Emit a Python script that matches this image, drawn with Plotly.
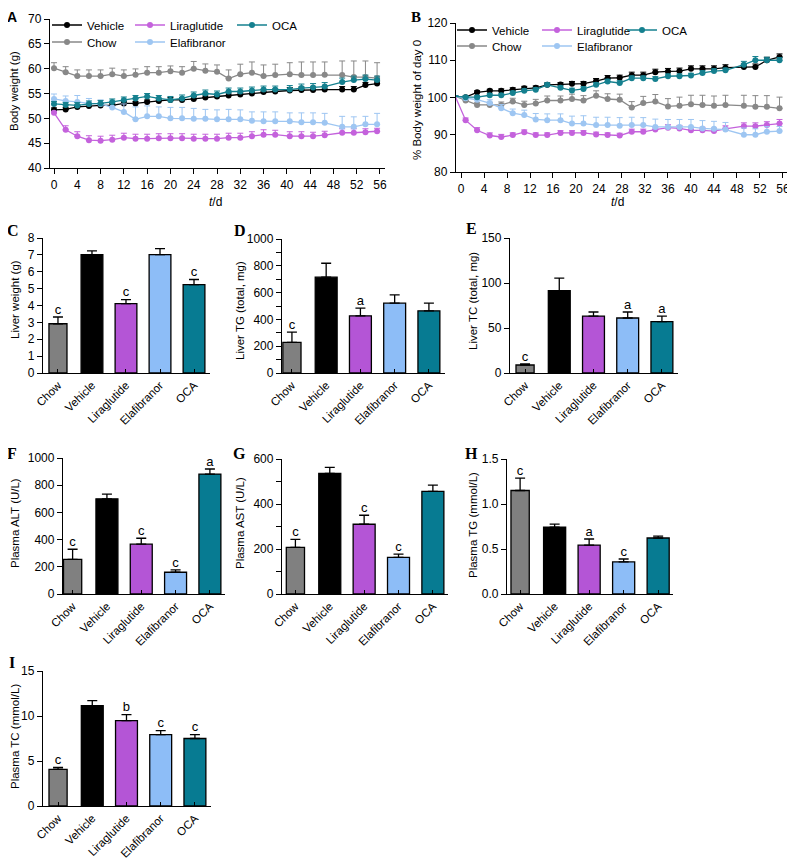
import plotly.graph_objects as go

# The page body has an 8 px margin: the figure is sized to fit the window after it.
OFF = 8
W, H = 795 - OFF, 859 - OFF
FONT = "Liberation Sans"

# ---------------- data ----------------
groups = ["Chow", "Vehicle", "Liraglutide", "Elafibranor", "OCA"]

days_A = [0, 2, 4, 6, 8, 10, 12, 14, 16, 18, 20, 22, 24, 26, 28, 30, 32, 34, 36, 38,
          40.5, 42.5, 44.5, 46.5, 49.5, 51.5, 53.5, 55.5]
days_B = [-1, 0.8, 2.8, 5, 7, 9, 11, 13, 15, 17.3, 19.3, 21.3, 23.5, 25.5, 27.6, 29.7,
          31.7, 33.8, 36, 38, 40, 42, 44, 46, 49.2, 51.2, 53.2, 55.4]

# Panel A: body weight (g)
bw_vehicle = [51.7, 51.8, 52.3, 52.5, 52.6, 52.6, 53.0, 53.0, 53.3, 53.5, 53.7, 53.7, 53.9, 54.2,
              54.4, 54.6, 54.8, 55.0, 55.3, 55.4, 55.6, 55.7, 55.7, 55.8, 55.8, 55.8, 56.7, 57.0]
bw_vehicle_err = [0.4, 0.4, 0.4, 0.4, 0.4, 0.4, 0.4, 0.4, 0.4, 0.4, 0.5, 0.5, 0.5, 0.5,
                  0.5, 0.5, 0.5, 0.5, 0.5, 0.5, 0.6, 0.6, 0.6, 0.6, 0.6, 0.6, 0.5, 0.5]
bw_chow = [60.1, 59.3, 58.5, 58.5, 58.5, 58.9, 58.5, 58.8, 59.2, 59.2, 59.5, 59.2, 60.0, 59.6,
           59.4, 58.0, 58.9, 59.2, 58.5, 58.7, 58.9, 58.7, 58.7, 58.8, 58.7, 58.3, 58.3, 58.1]
bw_chow_err = [1.1, 1.1, 1.25, 1.25, 1.25, 1.2, 1.25, 1.15, 1.2, 1.2, 1.05, 1.2, 1.45, 1.35,
               1.35, 1.75, 2.0, 2.15, 2.25, 2.2, 2.3, 2.65, 2.65, 2.55, 2.85, 3.25, 3.25, 3.1]
bw_lira = [51.1, 47.7, 46.4, 45.6, 45.5, 45.7, 46.1, 45.9, 45.9, 46.0, 46.0, 46.0, 45.9, 45.9,
           45.9, 46.1, 46.1, 46.4, 46.7, 46.7, 46.4, 46.4, 46.4, 46.6, 47.1, 47.1, 47.2, 47.4]
bw_lira_err = [0.3, 0.8, 0.9, 0.9, 0.9, 0.9, 0.9, 0.9, 0.9, 0.9, 0.9, 0.9, 0.9, 0.9,
               0.9, 0.9, 0.9, 0.9, 1.0, 0.9, 0.9, 0.9, 0.8, 0.8, 0.8, 0.8, 0.7, 0.6]
bw_elaf = [53.9, 53.5, 53.3, 53.0, 52.9, 52.2, 51.3, 49.8, 50.4, 50.4, 50.0, 50.0, 49.9, 49.9,
           49.8, 49.8, 49.8, 49.5, 49.4, 49.4, 49.4, 49.2, 49.2, 49.1, 48.3, 48.3, 48.8, 48.8]
bw_elaf_err = [1.0, 1.0, 1.3, 1.0, 0.8, 1.1, 1.6, 2.5, 2.1, 1.9, 2.2, 2.2, 2.1, 1.9,
               1.9, 2.0, 1.9, 1.8, 1.9, 1.9, 1.7, 1.9, 1.9, 1.9, 2.1, 2.0, 1.6, 2.2]
bw_oca = [52.9, 52.7, 52.6, 52.9, 53.0, 53.3, 53.7, 54.0, 54.4, 54.0, 53.7, 54.0, 54.6, 55.0,
          54.8, 55.4, 55.4, 55.6, 55.8, 55.8, 55.8, 56.1, 56.2, 56.4, 57.3, 57.7, 57.9, 57.7]
bw_oca_err = [0.5, 0.5, 0.6, 0.6, 0.6, 0.6, 0.6, 0.6, 0.6, 0.6, 0.7, 0.7, 0.7, 0.7,
              0.7, 0.7, 0.7, 0.7, 0.7, 0.7, 0.8, 0.8, 0.8, 0.8, 0.8, 0.8, 0.8, 0.8]

# Panel B: % body weight of day 0
pct_vehicle = [100.3, 100.1, 101.4, 101.8, 101.8, 102.1, 102.5, 102.6, 103.4, 103.5, 103.7, 103.7,
               104.4, 105.2, 105.3, 106.0, 106.0, 106.8, 107.0, 107.1, 107.7, 107.7, 107.7, 108.0,
               108.2, 108.2, 110.0, 110.9]
pct_vehicle_err = [0.2, 0.3, 0.4, 0.4, 0.5, 0.5, 0.5, 0.5, 0.5, 0.5, 0.6, 0.6, 0.7, 0.7, 0.7, 0.8,
                   0.8, 0.8, 0.8, 0.8, 0.8, 0.8, 0.8, 0.8, 0.8, 0.8, 0.8, 0.8]
pct_chow = [100.3, 99.2, 98.0, 98.0, 98.0, 98.9, 98.0, 98.4, 99.2, 99.2, 99.6, 99.2, 100.5, 99.6,
            99.4, 97.3, 98.5, 98.9, 97.6, 97.8, 98.2, 98.0, 97.8, 98.0, 97.8, 97.5, 97.5, 97.1]
pct_chow_err = [0.2, 0.5, 0.6, 0.7, 0.8, 0.9, 1.0, 1.1, 1.2, 1.2, 1.3, 1.3, 1.3, 1.4, 1.5, 1.6,
                1.8, 1.9, 2.1, 2.3, 2.4, 2.6, 2.6, 2.6, 2.8, 3.0, 3.0, 3.0]
pct_lira = [100.3, 93.9, 91.2, 89.8, 89.4, 89.9, 90.7, 89.9, 89.9, 90.5, 90.5, 90.5, 90.1, 89.9,
            89.8, 90.8, 90.8, 91.4, 91.9, 91.7, 91.2, 91.2, 91.0, 91.6, 92.3, 92.3, 92.6, 93.0]
pct_lira_err = [0.2, 0.6, 0.7, 0.7, 0.7, 0.6, 0.6, 0.6, 0.6, 0.6, 0.6, 0.6, 0.6, 0.6, 0.6, 0.7,
                0.7, 0.7, 0.8, 0.8, 0.8, 0.8, 0.8, 0.8, 0.9, 0.9, 0.9, 1.1]
pct_elaf = [100.3, 99.8, 99.4, 98.5, 97.1, 95.8, 95.3, 94.1, 93.9, 93.9, 93.0, 93.0, 92.6, 92.6,
            92.4, 92.6, 92.6, 92.1, 92.1, 92.1, 92.1, 91.7, 91.6, 91.4, 90.0, 90.0, 90.8, 91.0]
pct_elaf_err = [0.2, 0.5, 0.7, 0.9, 1.0, 1.1, 1.3, 1.6, 1.7, 1.7, 2.0, 2.1, 2.1, 2.1, 2.2, 2.1,
                2.0, 2.1, 2.0, 2.0, 2.0, 2.1, 2.0, 1.9, 1.8, 1.6, 1.4, 1.2]
pct_oca = [100.3, 100.1, 100.1, 100.6, 100.6, 101.2, 101.8, 102.1, 103.4, 102.6, 101.9, 102.3,
           103.4, 104.3, 103.9, 105.2, 105.2, 105.0, 105.7, 105.7, 105.9, 106.6, 107.1, 107.3,
           108.8, 110.0, 110.0, 110.0]
pct_oca_err = [0.2, 0.3, 0.4, 0.4, 0.4, 0.5, 0.5, 0.5, 0.5, 0.5, 0.6, 0.6, 0.6, 0.6, 0.6, 0.6,
               0.6, 0.6, 0.6, 0.6, 0.6, 0.6, 0.6, 0.6, 0.9, 1.0, 0.8, 0.7]

# Bar panels (order = groups)
liver_weight = [2.92, 7.02, 4.11, 7.02, 5.24]
liver_weight_err = [0.40, 0.22, 0.24, 0.35, 0.30]
liver_weight_sig = ["c", "", "c", "", "c"]

liver_tg = [228, 715, 427, 521, 464]
liver_tg_err = [77, 104, 57, 62, 57]
liver_tg_sig = ["c", "", "a", "", ""]

liver_tc = [8.9, 91.5, 63.3, 61.1, 57.0]
liver_tc_err = [1.1, 14.0, 4.5, 6.7, 6.3]
liver_tc_sig = ["c", "", "", "a", "a"]

plasma_alt = [255, 700, 366, 160, 882]
plasma_alt_err = [74, 35, 44, 17, 37]
plasma_alt_sig = ["c", "", "c", "c", "a"]

plasma_ast = [207, 536, 310, 163, 456]
plasma_ast_err = [36, 27, 40, 14, 28]
plasma_ast_sig = ["c", "", "c", "c", ""]

plasma_tg = [1.15, 0.744, 0.544, 0.356, 0.622]
plasma_tg_err = [0.137, 0.033, 0.067, 0.033, 0.022]
plasma_tg_sig = ["c", "", "a", "c", ""]

plasma_tc = [4.06, 11.16, 9.49, 7.94, 7.50]
plasma_tc_err = [0.22, 0.55, 0.67, 0.44, 0.44]
plasma_tc_sig = ["c", "", "b", "c", "c"]

# ---------------- styles ----------------
bar_colors = ["#808080", "#000000", "#b455d6", "#8dbdf7", "#077b92"]
bar_widths = [0.53, 0.64, 0.64, 0.64, 0.64]
line_colors = {"Vehicle": "#000000", "Chow": "#888888", "Liraglutide": "#c462dc",
               "Elafibranor": "#9ec6f2", "OCA": "#15808f"}


def xp(p):
    return (p - OFF) / W


def yp(p):
    return 1 - (p - OFF) / H


fig = go.Figure()
layout = dict(width=W, height=H, margin=dict(l=0, r=0, t=0, b=0, pad=0, autoexpand=False),
              paper_bgcolor="white", plot_bgcolor="white",
              font=dict(family=FONT, size=11.5, color="black"), showlegend=True)

axis_common = dict(showline=True, linecolor="black", linewidth=1.3, showgrid=False,
                   zeroline=False, ticks="outside", tickcolor="black", tickwidth=1.3,
                   ticklen=5, automargin=False,
                   tickfont=dict(family=FONT, size=12, color="black"))

# ---------------- time-course panels ----------------
tc_panels = [
    dict(ax="", days=days_A, xdom=(50, 385), ydom=(168, 19), xr=[-0.69, 56.86], yr=[40, 70],
         ydt=5, series=[("Vehicle", bw_vehicle, bw_vehicle_err), ("Chow", bw_chow, bw_chow_err),
                        ("Liraglutide", bw_lira, bw_lira_err),
                        ("Elafibranor", bw_elaf, bw_elaf_err), ("OCA", bw_oca, bw_oca_err)],
         leg={"Vehicle": (87, 25), "Chow": (87, 42), "Liraglutide": (170, 25),
              "Elafibranor": (170, 42), "OCA": (272, 25)}),
    dict(ax="2", days=days_B, xdom=(456, 787), ydom=(172, 23), xr=[-0.87, 56.7], yr=[80, 120],
         ydt=10, series=[("Vehicle", pct_vehicle, pct_vehicle_err), ("Chow", pct_chow, pct_chow_err),
                         ("Liraglutide", pct_lira, pct_lira_err),
                         ("Elafibranor", pct_elaf, pct_elaf_err), ("OCA", pct_oca, pct_oca_err)],
         leg={"Vehicle": (492, 30), "Chow": (492, 46), "Liraglutide": (577, 30),
              "Elafibranor": (577, 46), "OCA": (662, 30)}),
]

leg_idx = 1
for p in tc_panels:
    ax = p["ax"]
    for name, vals, err in p["series"]:
        lname = "legend" if leg_idx == 1 else f"legend{leg_idx}"
        c = line_colors[name]
        fig.add_trace(go.Scatter(
            x=p["days"], y=vals, mode="lines+markers", name=name,
            line=dict(color=c, width=1.3), marker=dict(color=c, size=6),
            error_y=dict(type="data", symmetric=False, array=err, arrayminus=[0] * len(err),
                         color=c, thickness=1, width=3),
            xaxis="x" + ax, yaxis="y" + ax, legend=lname, cliponaxis=False))
        tx, ty = p["leg"][name]
        layout[lname] = dict(x=xp(tx - 40), y=yp(ty), xanchor="left", yanchor="middle",
                             bgcolor="rgba(0,0,0,0)", borderwidth=0, itemwidth=30,
                             font=dict(family=FONT, size=11.5, color="black"))
        leg_idx += 1
    layout["xaxis" + ax] = dict(axis_common, domain=[xp(p["xdom"][0]), xp(p["xdom"][1])],
                                range=p["xr"], tickmode="linear", tick0=0, dtick=4,
                                anchor="y" + ax)
    layout["yaxis" + ax] = dict(axis_common, domain=[yp(p["ydom"][0]), yp(p["ydom"][1])],
                                range=p["yr"], tickmode="linear", tick0=0, dtick=p["ydt"],
                                anchor="x" + ax)

# ---------------- bar panels ----------------
bar_panels = [
    dict(ax="3", v=liver_weight, e=liver_weight_err, s=liver_weight_sig, xdom=(43, 210),
         ydom=(373, 238), xr=[-0.44, 4.47], yr=[0, 8], dt=1, minor=None, fmt=None),
    dict(ax="4", v=liver_tg, e=liver_tg_err, s=liver_tg_sig, xdom=(282, 445),
         ydom=(373, 239), xr=[-0.29, 4.47], yr=[0, 1000], dt=200, minor=100, fmt=None),
    dict(ax="5", v=liver_tc, e=liver_tc_err, s=liver_tc_sig, xdom=(510, 678),
         ydom=(373, 238), xr=[-0.44, 4.47], yr=[0, 150], dt=50, minor=None, fmt=None),
    dict(ax="6", v=plasma_alt, e=plasma_alt_err, s=plasma_alt_sig, xdom=(63, 225),
         ydom=(594, 458), xr=[-0.28, 4.44], yr=[0, 1000], dt=200, minor=None, fmt=None),
    dict(ax="7", v=plasma_ast, e=plasma_ast_err, s=plasma_ast_sig, xdom=(282, 448),
         ydom=(594, 459), xr=[-0.39, 4.44], yr=[0, 600], dt=200, minor=100, fmt=None),
    dict(ax="8", v=plasma_tg, e=plasma_tg_err, s=plasma_tg_sig, xdom=(507, 673),
         ydom=(594, 459), xr=[-0.38, 4.43], yr=[0, 1.5], dt=0.5, minor=None, fmt=".1f"),
    dict(ax="9", v=plasma_tc, e=plasma_tc_err, s=plasma_tc_sig, xdom=(43, 211),
         ydom=(806, 671), xr=[-0.44, 4.47], yr=[0, 15], dt=5, minor=None, fmt=None),
]

for p in bar_panels:
    ax = p["ax"]
    fig.add_trace(go.Bar(
        x=groups, y=p["v"], width=bar_widths, marker=dict(color=bar_colors,
                                                          line=dict(color="black", width=1.3)),
        error_y=dict(type="data", symmetric=False, array=p["e"], arrayminus=[0] * 5,
                     color="black", thickness=1.3, width=5),
        xaxis="x" + ax, yaxis="y" + ax, showlegend=False))
    tops = [v + e for v, e in zip(p["v"], p["e"])]
    fig.add_trace(go.Scatter(
        x=groups, y=tops, mode="text", text=p["s"], textposition="top center",
        textfont=dict(family=FONT, size=13, color="black"),
        xaxis="x" + ax, yaxis="y" + ax, showlegend=False, cliponaxis=False, hoverinfo="skip"))
    xa = dict(axis_common, domain=[xp(p["xdom"][0]), xp(p["xdom"][1])], range=p["xr"],
              type="category", ticks="inside", ticklen=4, tickangle=-45, anchor="y" + ax,
              tickfont=dict(family=FONT, size=11.5, color="black"))
    ya = dict(axis_common, domain=[yp(p["ydom"][0]), yp(p["ydom"][1])], range=p["yr"],
              tickmode="linear", tick0=0, dtick=p["dt"], anchor="x" + ax)
    if p["minor"]:
        ya["minor"] = dict(dtick=p["minor"], ticks="outside", ticklen=5, tickcolor="black",
                           tickwidth=1.3)
    if p["fmt"]:
        ya["tickformat"] = p["fmt"]
    layout["xaxis" + ax] = xa
    layout["yaxis" + ax] = ya

# ---------------- text: panel letters and axis titles ----------------
ann = []
letters = [("A", 12, 17, "Liberation Sans", 14), ("B", 416, 17, "Liberation Serif", 15),
           ("C", 13, 230, "Liberation Serif", 16), ("D", 240, 230, "Liberation Serif", 16),
           ("E", 472, 229, "Liberation Serif", 16), ("F", 12, 453, "Liberation Serif", 16),
           ("G", 240, 453, "Liberation Serif", 16), ("H", 472, 453, "Liberation Serif", 16),
           ("I", 12, 662, "Liberation Serif", 16)]
for t, x, y, f, s in letters:
    ann.append(dict(text=f"<b>{t}</b>", x=xp(x), y=yp(y), xref="paper", yref="paper",
                    showarrow=False, xanchor="center", yanchor="middle", borderpad=0,
                    font=dict(family=f, size=s, color="black")))

ytitles = [("Body weight (g)", 14, 91), ("% Body weight of day 0", 417, 100),
           ("Liver weight (g)", 15, 300), ("Liver TG (total, mg)", 240, 310),
           ("Liver TC (total, mg)", 473, 301), ("Plasma ALT (U/L)", 15, 523),
           ("Plasma AST (U/L)", 240, 523), ("Plasma TG (mmol/L)", 473, 525),
           ("Plasma TC (mmol/L)", 15, 737)]
for t, x, y in ytitles:
    ann.append(dict(text=t, x=xp(x), y=yp(y), xref="paper", yref="paper", showarrow=False,
                    textangle=-90, xanchor="center", yanchor="middle",
                    font=dict(family=FONT, size=11.5, color="black")))

for x in (215, 617):
    ann.append(dict(text="<i>t</i>/d", x=xp(x), y=yp(202), xref="paper", yref="paper",
                    showarrow=False, xanchor="center", yanchor="middle",
                    font=dict(family=FONT, size=12, color="black")))

layout["annotations"] = ann
fig.update_layout(**layout)
fig.write_html("out.html")
